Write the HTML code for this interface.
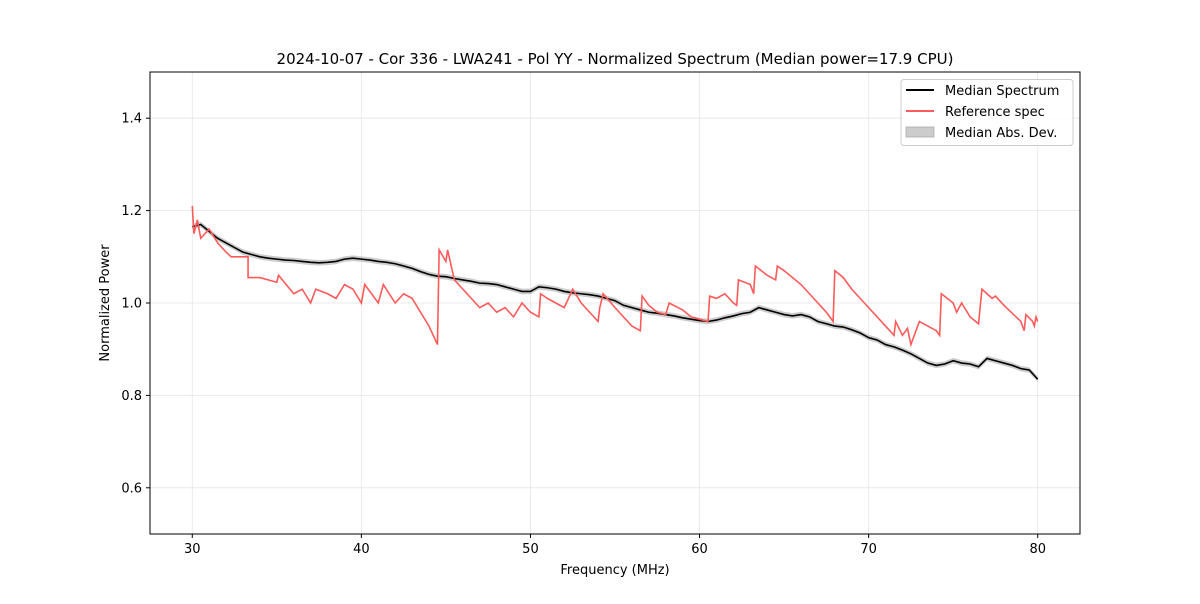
<!DOCTYPE html>
<html><head><meta charset="utf-8"><style>
body{margin:0;background:#fff;font-family:"DejaVu Sans","Liberation Sans",sans-serif;}
svg text{font-family:"DejaVu Sans","Liberation Sans",sans-serif;}
</style></head><body>
<svg id="chart" width="1200" height="600" xmlns="http://www.w3.org/2000/svg">
<rect width="1200" height="600" fill="#fff"/>
<g id="grid"></g>
<g id="marks"></g>
<rect x="150" y="72" width="930" height="462" fill="none" stroke="#000" stroke-width="1"/>
<g id="ticks"></g>
<text x="615" y="64" text-anchor="middle" font-size="15">2024-10-07 - Cor 336 - LWA241 - Pol YY - Normalized Spectrum (Median power=17.9 CPU)</text>
<text x="615" y="574" text-anchor="middle" font-size="13">Frequency (MHz)</text>
<text x="109" y="303" text-anchor="middle" font-size="13" transform="rotate(-90 109 303)">Normalized Power</text>
<g>
<rect x="901" y="79.5" width="172" height="66" rx="3" fill="#fff" fill-opacity="0.8" stroke="#ccc"/>
<g><line x1="906" y1="90" x2="934" y2="90" stroke="#000" stroke-width="2"/><text x="945" y="95" font-size="13">Median Spectrum</text></g>
<g><line x1="906" y1="111" x2="934" y2="111" stroke="#ff5a5a" stroke-width="2"/><text x="945" y="116" font-size="13">Reference spec</text></g>
<g><rect x="906" y="127" width="28" height="10" fill="#ccc" stroke="#aaa" stroke-width="0.8"/><text x="945" y="137" font-size="13">Median Abs. Dev.</text></g>
</g>
</svg>
<script>
const xTicks=[30,40,50,60,70,80];
const yTicks=[0.6,0.8,1.0,1.2,1.4];
const medFreq=[30,30.5,31,31.5,32,32.5,33,33.5,34,34.5,35,35.5,36,36.5,37,37.5,38,38.5,39,39.5,40,40.5,41,41.5,42,42.5,43,43.5,44,44.5,45,45.5,46,46.5,47,47.5,48,48.5,49,49.5,50,50.5,51,51.5,52,52.5,53,53.5,54,54.5,55,55.5,56,56.5,57,57.5,58,58.5,59,59.5,60,60.5,61,61.5,62,62.5,63,63.5,64,64.5,65,65.5,66,66.5,67,67.5,68,68.5,69,69.5,70,70.5,71,71.5,72,72.5,73,73.5,74,74.5,75,75.5,76,76.5,77,77.5,78,78.5,79,79.5,80];
const medVal=[1.165,1.17,1.155,1.14,1.13,1.12,1.11,1.105,1.10,1.097,1.095,1.093,1.092,1.09,1.088,1.087,1.088,1.09,1.095,1.097,1.095,1.093,1.09,1.088,1.085,1.08,1.075,1.068,1.062,1.058,1.057,1.053,1.05,1.047,1.043,1.042,1.04,1.035,1.03,1.025,1.025,1.035,1.033,1.03,1.025,1.022,1.02,1.018,1.015,1.01,1.005,0.995,0.99,0.985,0.98,0.978,0.975,0.972,0.968,0.965,0.962,0.96,0.963,0.968,0.972,0.977,0.98,0.99,0.985,0.98,0.975,0.972,0.975,0.97,0.96,0.955,0.95,0.948,0.942,0.935,0.925,0.92,0.91,0.905,0.898,0.89,0.88,0.87,0.865,0.868,0.875,0.87,0.868,0.862,0.88,0.875,0.87,0.865,0.858,0.855,0.835];
const madVal=0.006;
const refFreq=[30,30.1,30.3,30.5,31,31.5,32,32.3,32.5,33.3,33.3,34,35,35.1,36,36.5,37,37.3,38,38.5,39,39.5,40,40.2,41,41.3,42,42.5,43,43.5,44,44.5,44.6,45,45.1,45.5,46,46.5,47,47.5,48,48.5,49,49.5,50,50.5,50.6,51,52,52.5,53,54,54.1,54.3,55,55.5,56,56.5,56.6,57,57.5,58,58.2,59,59.5,60,60.5,60.6,61,61.5,62,62.2,62.3,63,63.2,63.3,64,64.5,64.6,65,66,67,67.5,67.9,68,68.5,69,70,71,71.5,71.6,72,72.3,72.5,73,73.5,74,74.2,74.3,75,75.2,75.5,76,76.5,76.7,77,77.3,77.5,78,79,79.2,79.3,79.7,79.8,79.9,80];
const refVal=[1.21,1.15,1.18,1.14,1.16,1.13,1.11,1.10,1.10,1.10,1.055,1.055,1.045,1.06,1.02,1.03,1.0,1.03,1.02,1.01,1.04,1.03,1.0,1.04,1.0,1.04,1.0,1.02,1.01,0.98,0.95,0.91,1.115,1.09,1.115,1.05,1.03,1.01,0.99,1.0,0.98,0.99,0.97,1.0,0.98,0.97,1.02,1.01,0.99,1.03,1.0,0.96,0.99,1.02,0.99,0.97,0.95,0.94,1.015,0.995,0.98,0.975,1.0,0.985,0.97,0.965,0.96,1.015,1.01,1.02,1.0,0.995,1.05,1.04,1.02,1.08,1.06,1.05,1.08,1.07,1.04,1.0,0.98,0.96,1.07,1.055,1.03,0.99,0.95,0.93,0.96,0.93,0.945,0.91,0.96,0.95,0.94,0.93,1.02,1.0,0.98,1.0,0.97,0.955,1.03,1.02,1.01,1.015,0.995,0.96,0.94,0.975,0.96,0.95,0.97,0.96];
const NS="http://www.w3.org/2000/svg";
const X=f=>150+(f-27.5)/55*930;
const Y=v=>534-(v-0.5)/1.0*462;
const grid=document.getElementById('grid'),ticks=document.getElementById('ticks'),marks=document.getElementById('marks');
function mk(t,a,p){const e=document.createElementNS(NS,t);for(const k in a)e.setAttribute(k,a[k]);p.appendChild(e);return e;}
xTicks.forEach(t=>{const x=X(t);
 const g=mk('line',{x1:x,x2:x,y1:72,y2:534,stroke:'#e5e5e5','stroke-width':0.8},grid);
 
 
 const l=mk('line',{x1:x,x2:x,y1:534,y2:538,stroke:'#000'},ticks);
 
 
 const tx=mk('text',{x:x,y:553,'text-anchor':'middle','font-size':13},ticks);tx.textContent=t;
 
 });
yTicks.forEach(t=>{const y=Y(t);
 const g=mk('line',{x1:150,x2:1080,y1:y,y2:y,stroke:'#e5e5e5','stroke-width':0.8},grid);
 
 
 const l=mk('line',{x1:146,x2:150,y1:y,y2:y,stroke:'#000'},ticks);
 
 
 const tx=mk('text',{x:142,y:y+4.5,'text-anchor':'end','font-size':13},ticks);tx.textContent=t.toFixed(1);
 
 });
let up=medFreq.map((f,i)=>X(f)+','+Y(medVal[i]+madVal)),dn=medFreq.map((f,i)=>X(f)+','+Y(medVal[i]-madVal)).reverse();
const band=mk('polygon',{points:up.concat(dn).join(' '),fill:'#aaa','fill-opacity':0.6},marks);


const med=mk('polyline',{points:medFreq.map((f,i)=>X(f)+','+Y(medVal[i])).join(' '),fill:'none',stroke:'#000','stroke-width':1.6},marks);


const ref=mk('polyline',{points:refFreq.map((f,i)=>X(f)+','+Y(refVal[i])).join(' '),fill:'none',stroke:'#ff5a5a','stroke-width':1.6},marks);


</script>
</body></html>
